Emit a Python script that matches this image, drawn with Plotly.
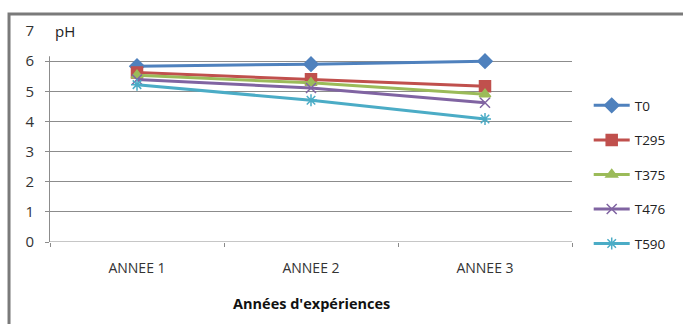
import plotly.graph_objects as go

# pH measured each year for each treatment
years = ["ANNEE 1", "ANNEE 2", "ANNEE 3"]
t0 = [5.83, 5.90, 6.00]
t295 = [5.62, 5.40, 5.17]
t375 = [5.53, 5.28, 4.90]
t476 = [5.39, 5.11, 4.62]
t590 = [5.22, 4.70, 4.08]

y_ticks = [0, 1, 2, 3, 4, 5, 6, 7]

series = [
    ("T0", t0, "#4F81BD", "diamond", 11),
    ("T295", t295, "#C0504D", "square", 11),
    ("T375", t375, "#9BBB59", "triangle-up", 10),
    ("T476", t476, "#8064A2", "x-thin-open", 10),
    ("T590", t590, "#4BACC6", "asterisk-open", 10),
]

fig = go.Figure()
for name, vals, color, symbol, size in series:
    fig.add_trace(go.Scatter(
        x=years, y=vals, name=name, mode="lines+markers",
        legendgroup=name,
        line=dict(color=color, width=3),
        marker=dict(symbol=symbol, size=size, color=color,
                    line=dict(color=color, width=1.5)),
    ))

font = "Open Sans, Liberation Sans, sans-serif"

fig.update_layout(
    width=683, height=324,
    margin=dict(l=50, r=111, t=31, b=82),
    paper_bgcolor="white", plot_bgcolor="white",
    font=dict(family=font, color="#333333"),
    showlegend=True,
    legend=dict(
        x=1.032, xanchor="left", y=0.72, yanchor="top",
        font=dict(size=13.5, color="#222222"),
        tracegroupgap=14, itemwidth=36,
        bgcolor="rgba(0,0,0,0)",
    ),
    xaxis=dict(
        type="category", range=[-0.5, 2.5], showgrid=False, zeroline=False,
        showline=False, ticks="outside", tickson="boundaries",
        ticklen=4, tickcolor="#8a8a8a",
        tickfont=dict(size=14, color="#333333"),
        ticklabelstandoff=16,
    ),
    yaxis=dict(
        range=[0, 7], tickvals=y_ticks, showgrid=True,
        gridcolor="#8c8c8c", gridwidth=1, zeroline=False,
        showline=True, linecolor="#8c8c8c", linewidth=1,
        ticks="outside", ticklen=4, tickcolor="#8c8c8c",
        tickfont=dict(size=15, color="#333333"),
        ticklabelstandoff=8,
    ),
    shapes=[
        # baseline at pH 0
        dict(type="line", xref="paper", yref="y", x0=0, x1=1, y0=0, y1=0,
             line=dict(color="#8c8c8c", width=1), layer="below"),
        # white panel behind the unit label
        dict(type="rect", xref="paper", yref="paper",
             x0=-0.012, x1=0.111, y0=0.88, y1=1.06,
             fillcolor="white", line=dict(width=0), layer="above"),
        # outer frame
        dict(type="rect", xref="paper", yref="paper",
             x0=-0.0785, x1=1.5, y0=-0.6, y1=1.0806,
             line=dict(color="#7a7a7a", width=3), fillcolor="rgba(0,0,0,0)"),
    ],
    annotations=[
        dict(text="pH", xref="paper", yref="y", x=0.006, y=7,
             xanchor="left", yanchor="middle", showarrow=False,
             font=dict(size=15, color="#222222")),
        dict(text="<b>Années d'expériences</b>", xref="paper", yref="paper",
             x=0.5, y=-0.29, xanchor="center", yanchor="middle",
             showarrow=False, font=dict(size=14.5, color="#111111")),
    ],
)

fig.write_html("out.html")
